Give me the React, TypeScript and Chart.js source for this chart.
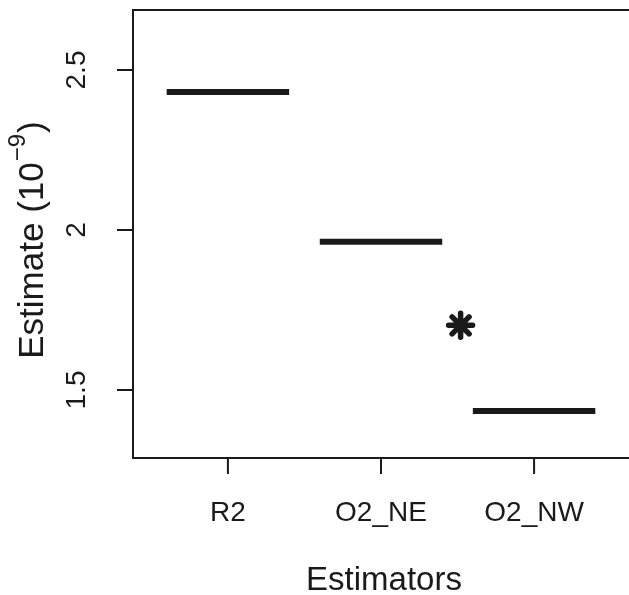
import React, { useEffect, useRef } from "react";
import { Chart, registerables } from "chart.js";

Chart.register(...registerables);

// ---- data ----
const categories: string[] = ["R2", "O2_NE", "O2_NW"];
const estimates: number[] = [2.431, 1.963, 1.434];
const starPosition: number[] = [2.52];
const starValue: number[] = [1.702];
const yTickValues: number[] = [1.5, 2, 2.5];
const yTickLabels: string[] = ["1.5", "2", "2.5"];
const xTitle = "Estimators";
const yTitleMain = "Estimate (10";
const yTitleSup = "\u22129";
const yTitleEnd = ")";

// ---- style constants ----
const INK = "#1a1a1a";
const FONT = '"Liberation Sans", Arial, Helvetica, sans-serif';
const HALF_WIDTH = 0.4;
const X_MIN = 0.38;
const X_MAX = 3.62;
const Y_MIN = 1.2875;
const Y_MAX = 2.6875;

const axesPlugin = {
  id: "rAxes",
  beforeDatasetDraw(chart: any) {
    chart.ctx.lineCap = "round";
  },
  afterDatasetDraw(chart: any) {
    chart.ctx.lineCap = "butt";
  },
  afterDraw(chart: any) {
    const ctx = chart.ctx as CanvasRenderingContext2D;
    const area = chart.chartArea;
    const xs = chart.scales.x;
    const ys = chart.scales.y;
    ctx.save();
    ctx.strokeStyle = INK;
    ctx.fillStyle = INK;
    ctx.lineWidth = 2;
    ctx.lineCap = "butt";
    // box (left, top, bottom; right edge lies at the image border)
    ctx.beginPath();
    ctx.moveTo(area.right + 4, area.top);
    ctx.lineTo(area.left, area.top);
    ctx.lineTo(area.left, area.bottom);
    ctx.lineTo(area.right + 4, area.bottom);
    ctx.stroke();

    // y ticks
    ctx.beginPath();
    yTickValues.forEach((v) => {
      const py = ys.getPixelForValue(v);
      ctx.moveTo(area.left - 16, py);
      ctx.lineTo(area.left, py);
    });
    // x ticks
    categories.forEach((_, i) => {
      const px = xs.getPixelForValue(i + 1);
      ctx.moveTo(px, area.bottom);
      ctx.lineTo(px, area.bottom + 16);
    });
    ctx.stroke();

    // x tick labels
    ctx.font = `28px ${FONT}`;
    ctx.textAlign = "center";
    ctx.textBaseline = "alphabetic";
    categories.forEach((c, i) => {
      const px = xs.getPixelForValue(i + 1);
      ctx.fillText(c, px, area.bottom + 63);
    });

    // y tick labels (rotated)
    yTickValues.forEach((v, i) => {
      const py = ys.getPixelForValue(v);
      ctx.save();
      ctx.translate(area.left - 48, py);
      ctx.rotate(-Math.PI / 2);
      ctx.textAlign = "center";
      ctx.fillText(yTickLabels[i], 0, 0);
      ctx.restore();
    });

    // x title
    ctx.font = `33px ${FONT}`;
    ctx.textAlign = "center";
    ctx.fillText(xTitle, (area.left + area.right) / 2 + 3, area.bottom + 132);

    // y title
    ctx.save();
    ctx.translate(area.left - 90, (area.top + area.bottom) / 2 + 7);
    ctx.rotate(-Math.PI / 2);
    ctx.textAlign = "left";
    ctx.font = `35px ${FONT}`;
    const w1 = ctx.measureText(yTitleMain).width;
    const w3 = ctx.measureText(yTitleEnd).width;
    ctx.font = `24px ${FONT}`;
    const w2 = ctx.measureText(yTitleSup).width;
    const x0 = -(w1 + w2 + w3) / 2;
    ctx.font = `35px ${FONT}`;
    ctx.fillText(yTitleMain, x0, 0);
    ctx.font = `24px ${FONT}`;
    ctx.fillText(yTitleSup, x0 + w1 + 1, -18);
    ctx.font = `35px ${FONT}`;
    ctx.fillText(yTitleEnd, x0 + w1 + w2 + 2, 0);
    ctx.restore();

    ctx.restore();
  },
};

export default function App() {
  const canvasRef = useRef<HTMLCanvasElement | null>(null);

  useEffect(() => {
    if (!canvasRef.current) return;
    const lineSets = categories.map((c, i) => ({
      label: c,
      data: [
        { x: i + 1 - HALF_WIDTH, y: estimates[i] },
        { x: i + 1 + HALF_WIDTH, y: estimates[i] },
      ],
      showLine: true,
      borderColor: INK,
      backgroundColor: INK,
      borderWidth: 6,
      borderCapStyle: "butt" as const,
      pointRadius: 0,
      pointHoverRadius: 0,
    }));
    const starSet = {
      label: "point",
      data: starPosition.map((x, i) => ({ x, y: starValue[i] })),
      showLine: false,
      pointStyle: "star" as const,
      pointRadius: 12,
      pointBorderWidth: 5.5,
      pointBorderColor: INK,
      pointBackgroundColor: INK,
      borderColor: INK,
      backgroundColor: INK,
    };
    const chart = new Chart(canvasRef.current, {
      type: "scatter",
      data: { datasets: [...lineSets, starSet] as any },
      options: {
        animation: false,
        responsive: false,
        devicePixelRatio: 1,
        layout: { autoPadding: false, padding: { top: 10, left: 0, right: 0, bottom: 0 } },
        plugins: {
          legend: { display: false },
          tooltip: { enabled: false },
        },
        scales: {
          x: {
            type: "linear",
            min: X_MIN,
            max: X_MAX,
            grid: { display: false },
            border: { display: false },
            ticks: { display: false },
            afterFit: (s: any) => {
              s.height = 137;
            },
          },
          y: {
            type: "linear",
            min: Y_MIN,
            max: Y_MAX,
            grid: { display: false },
            border: { display: false },
            ticks: { display: false },
            afterFit: (s: any) => {
              s.width = 133;
            },
          },
        },
      },
      plugins: [axesPlugin],
    });
    return () => chart.destroy();
  }, []);

  return (
    <div
      style={{
        position: "fixed",
        left: 0,
        top: 0,
        width: 629,
        height: 595,
        background: "#ffffff",
      }}
    >
      <canvas ref={canvasRef} width={629} height={595} />
    </div>
  );
}
